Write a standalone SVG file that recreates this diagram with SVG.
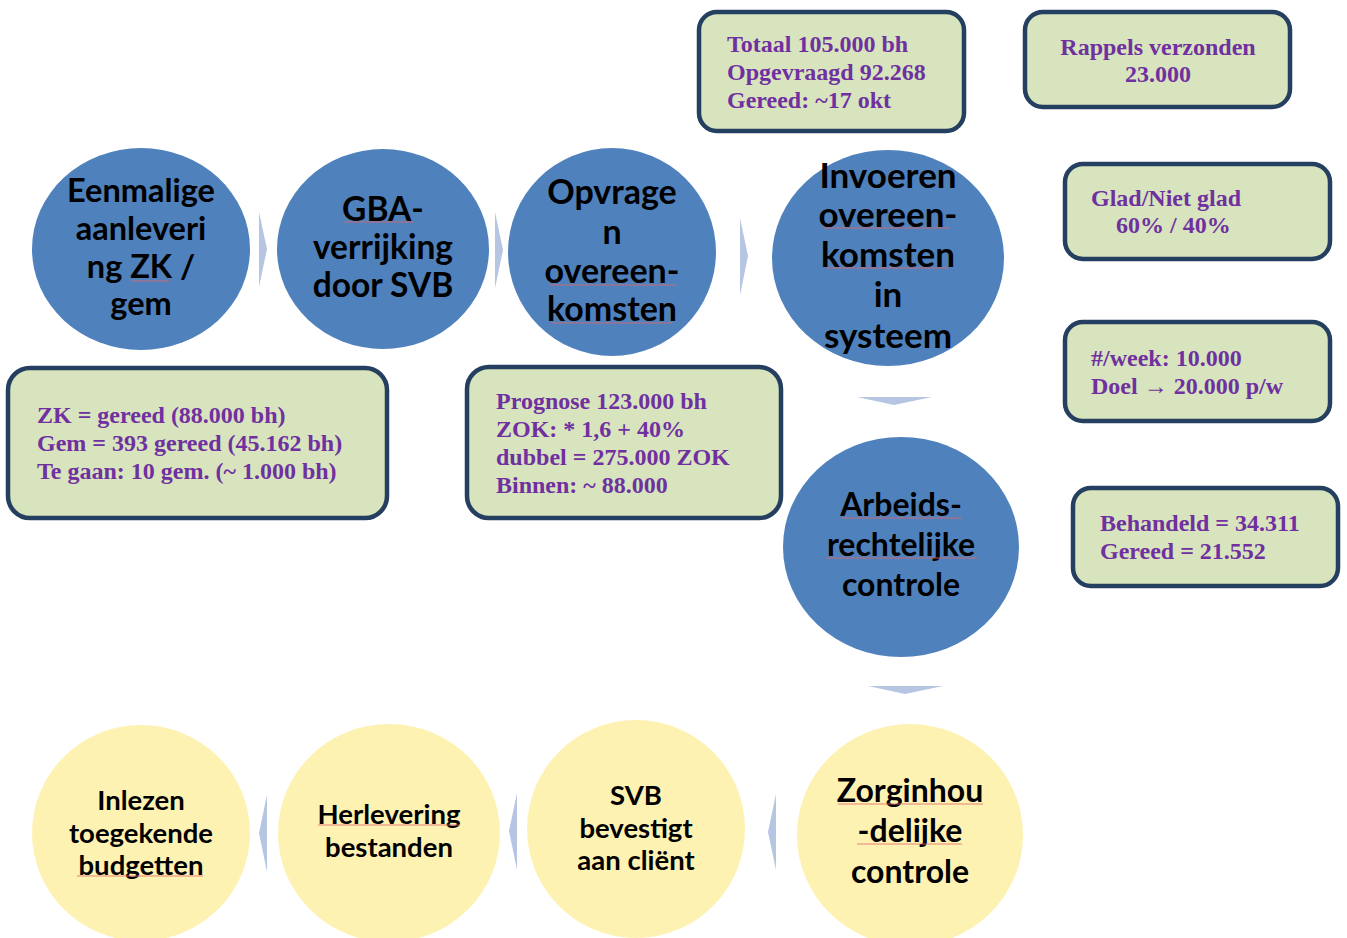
<svg xmlns="http://www.w3.org/2000/svg" width="1347" height="938" viewBox="0 0 1347 938">
<style>
.blue{fill:#4F81BD}
.yel{fill:#FEF2B3}
.arr{fill:#B5C5E2}
.box{fill:#D7E4BD;stroke:#243F60;stroke-width:4.5}
.ct{font-family:Lato,"Open Sans",sans-serif;font-weight:bold;fill:#000;text-anchor:middle}
.sm{font-size:27.5px}
.bt{font-family:"Liberation Serif","Times New Roman",serif;font-weight:bold;font-size:24px;fill:#7030A0}
.sq{stroke:#E06666;stroke-width:1.2;fill:none;opacity:0.8}
</style>
<rect width="1347" height="938" fill="#fff"/>
<g id="connectors">
<polygon class="arr" points="259,212 267,249 259,287"/>
<polygon class="arr" points="495,212 503,250 495,288"/>
<polygon class="arr" points="740,218 748,256 740,295"/>
<polygon class="arr" points="857,397 932,397 894,405"/>
<polygon class="arr" points="868,686 943,686 905,694"/>
<polygon class="arr" points="776,794 768,832 776,870"/>
<polygon class="arr" points="517,793 509,831 517,870"/>
<polygon class="arr" points="267,795 259,833 267,872"/>
</g>
<g id="n-eenmalige">
<ellipse class="blue" cx="141" cy="249" rx="109" ry="101"/>
<text class="ct" font-size="32.5"><tspan x="141" y="202">Eenmalige</tspan><tspan x="141" y="240">aanleveri</tspan><tspan x="141" y="278">ng ZK /</tspan><tspan x="141" y="315">gem</tspan></text>
<line class="sq" x1="131" y1="281" x2="169" y2="281"/>
</g>
<g id="n-gba">
<ellipse class="blue" cx="383" cy="249" rx="106" ry="100"/>
<text class="ct" font-size="33.5"><tspan x="383" y="221">GBA-</tspan><tspan x="383" y="259">verrijking</tspan><tspan x="383" y="297">door SVB</tspan></text>
<line class="sq" x1="344" y1="222" x2="413" y2="222"/>
</g>
<g id="n-opvragen">
<ellipse class="blue" cx="612" cy="252" rx="104" ry="104"/>
<text class="ct" font-size="34"><tspan x="612" y="204">Opvrage</tspan><tspan x="612" y="244">n</tspan><tspan x="612" y="283">overeen-</tspan><tspan x="612" y="321">komsten</tspan></text>
<line class="sq" x1="549" y1="285" x2="676" y2="285"/>
<line class="sq" x1="552" y1="323" x2="672" y2="323"/>
</g>
<g id="n-invoeren">
<ellipse class="blue" cx="888" cy="258" rx="116" ry="108"/>
<text class="ct" font-size="35"><tspan x="888" y="188">Invoeren</tspan><tspan x="888" y="227">overeen-</tspan><tspan x="888" y="267">komsten</tspan><tspan x="888" y="307">in</tspan><tspan x="888" y="348">systeem</tspan></text>
<line class="sq" x1="824" y1="228" x2="950" y2="228"/>
<line class="sq" x1="826" y1="268" x2="948" y2="268"/>
</g>
<g id="n-arbeids">
<ellipse class="blue" cx="901" cy="547" rx="118" ry="110"/>
<text class="ct" font-size="32"><tspan x="901" y="516">Arbeids-</tspan><tspan x="901" y="556">rechtelijke</tspan><tspan x="901" y="596">controle</tspan></text>
<line class="sq" x1="842" y1="518" x2="962" y2="518"/>
<line class="sq" x1="826" y1="558" x2="977" y2="558"/>
</g>
<g id="n-zorg">
<ellipse class="yel" cx="910" cy="835" rx="113" ry="111"/>
<text class="ct" font-size="32"><tspan x="910" y="802">Zorginhou</tspan><tspan x="910" y="842">-delijke</tspan><tspan x="910" y="883">controle</tspan></text>
<line class="sq" x1="838" y1="804" x2="983" y2="804"/>
<line class="sq" x1="857" y1="844" x2="962" y2="844"/>
</g>
<g id="n-svb">
<ellipse class="yel" cx="636" cy="829" rx="109" ry="109"/>
<text class="ct sm"><tspan x="636" y="805">SVB</tspan><tspan x="636" y="838">bevestigt</tspan><tspan x="636" y="870">aan cliënt</tspan></text>
</g>
<g id="n-herlevering">
<ellipse class="yel" cx="389" cy="833" rx="111" ry="109"/>
<text class="ct sm"><tspan x="389" y="824">Herlevering</tspan><tspan x="389" y="857">bestanden</tspan></text>
<line class="sq" x1="318" y1="825" x2="460" y2="825"/>
</g>
<g id="n-inlezen">
<ellipse class="yel" cx="141" cy="833" rx="109" ry="108"/>
<text class="ct sm"><tspan x="141" y="810">Inlezen</tspan><tspan x="141" y="843">toegekende</tspan><tspan x="141" y="875">budgetten</tspan></text>
<line class="sq" x1="77" y1="876" x2="203" y2="876"/>
</g>
<g id="b-totaal">
<rect class="box" x="699" y="12" width="265" height="119" rx="18"/>
<text class="bt"><tspan x="727" y="52">Totaal 105.000 bh</tspan><tspan x="727" y="80">Opgevraagd 92.268</tspan><tspan x="727" y="108">Gereed: ~17 okt</tspan></text>
</g>
<g id="b-rappels">
<rect class="box" x="1025" y="12" width="265" height="95" rx="18"/>
<text class="bt" text-anchor="middle"><tspan x="1158" y="55">Rappels verzonden</tspan><tspan x="1158" y="82">23.000</tspan></text>
</g>
<g id="b-glad">
<rect class="box" x="1065" y="164" width="265" height="95" rx="18"/>
<text class="bt"><tspan x="1091" y="206">Glad/Niet glad</tspan><tspan x="1116" y="233">60% / 40%</tspan></text>
</g>
<g id="b-week">
<rect class="box" x="1065" y="322" width="265" height="99" rx="18"/>
<text class="bt"><tspan x="1091" y="366">#/week: 10.000</tspan><tspan x="1091" y="394">Doel → 20.000 p/w</tspan></text>
</g>
<g id="b-zk">
<rect class="box" x="8" y="368" width="379" height="150" rx="22"/>
<text class="bt"><tspan x="37" y="423">ZK = gereed (88.000 bh)</tspan><tspan x="37" y="451">Gem = 393 gereed (45.162 bh)</tspan><tspan x="37" y="479">Te gaan: 10 gem. (~ 1.000 bh)</tspan></text>
</g>
<g id="b-prognose">
<rect class="box" x="467" y="367" width="314" height="151" rx="22"/>
<text class="bt"><tspan x="496" y="409">Prognose 123.000 bh</tspan><tspan x="496" y="437">ZOK: * 1,6 + 40%</tspan><tspan x="496" y="465">dubbel = 275.000 ZOK</tspan><tspan x="496" y="493">Binnen: ~ 88.000</tspan></text>
</g>
<g id="b-behandeld">
<rect class="box" x="1073" y="488" width="265" height="98" rx="18"/>
<text class="bt"><tspan x="1100" y="531">Behandeld = 34.311</tspan><tspan x="1100" y="559">Gereed = 21.552</tspan></text>
</g>
</svg>
